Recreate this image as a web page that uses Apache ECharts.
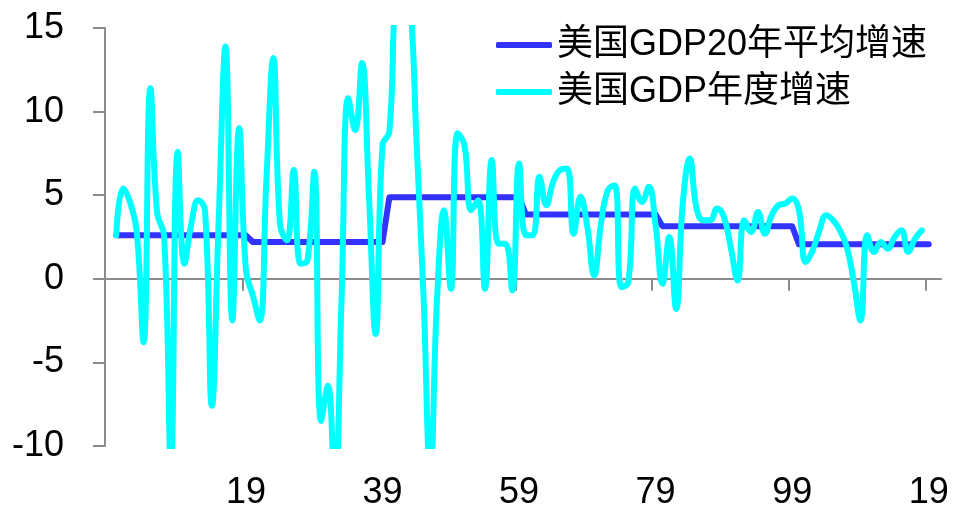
<!DOCTYPE html>
<html>
<head>
<meta charset="utf-8">
<script src="https://cdn.jsdelivr.net/npm/echarts@6/dist/echarts.min.js"></script>
<style>
html,body{margin:0;padding:0;background:#fff;}
#chart{width:955px;height:511px;}
</style>
</head>
<body>
<div id="chart"></div>
<script>
// Years (x categories)
const years = [
1900,1901,1902,1903,1904,1905,1906,1907,1908,1909,
1910,1911,1912,1913,1914,1915,1916,1917,1918,1919,
1920,1921,1922,1923,1924,1925,1926,1927,1928,1929,
1930,1931,1932,1933,1934,1935,1936,1937,1938,1939,
1940,1941,1942,1943,1944,1945,1946,1947,1948,1949,
1950,1951,1952,1953,1954,1955,1956,1957,1958,1959,
1960,1961,1962,1963,1964,1965,1966,1967,1968,1969,
1970,1971,1972,1973,1974,1975,1976,1977,1978,1979,
1980,1981,1982,1983,1984,1985,1986,1987,1988,1989,
1990,1991,1992,1993,1994,1995,1996,1997,1998,1999,
2000,2001,2002,2003,2004,2005,2006,2007,2008,2009,
2010,2011,2012,2013,2014,2015,2016,2017,2018,2019
];
// 美国GDP年度增速 (%), 1900-2018
const gdpGrowth = [
2.6,5.4,4.6,2.8,-3.8,11.4,3.9,2.6,-11.0,7.6,
0.9,3.3,4.7,4.1,-7.6,3.5,13.9,-2.5,9.0,0.5,
-1.0,-2.5,6.0,13.2,3.2,2.3,6.5,0.9,1.1,6.4,
-8.5,-6.4,-12.9,-1.2,10.8,8.9,12.9,5.1,-3.3,8.0,
8.8,17.7,18.9,17.0,8.0,-1.0,-11.6,-1.1,4.1,-0.6,
8.7,8.0,4.1,4.7,-0.6,7.1,2.1,2.1,-0.7,6.9,
2.6,2.6,6.1,4.4,5.8,6.5,6.6,2.7,4.9,3.1,
0.2,3.3,5.3,5.6,-0.5,-0.2,5.4,4.6,5.5,3.2,
-0.3,2.5,-1.8,4.6,7.2,4.2,3.5,3.5,4.2,3.7,
1.9,-0.1,3.5,2.8,4.0,2.7,3.8,4.4,4.5,4.8,
4.1,1.0,1.7,2.9,3.8,3.5,2.9,1.9,-0.1,-2.5,
2.6,1.6,2.2,1.8,2.5,2.9,1.6,2.4,2.9
];
// 美国GDP20年平均增速 (%), 1900-2019
const avg20 = [
2.6,2.6,2.6,2.6,2.6,2.6,2.6,2.6,2.6,2.6,
2.6,2.6,2.6,2.6,2.6,2.6,2.6,2.6,2.6,2.6,
2.2,2.2,2.2,2.2,2.2,2.2,2.2,2.2,2.2,2.2,
2.2,2.2,2.2,2.2,2.2,2.2,2.2,2.2,2.2,2.2,
4.88,4.88,4.88,4.88,4.88,4.88,4.88,4.88,4.88,4.88,
4.88,4.88,4.88,4.88,4.88,4.88,4.88,4.88,4.88,4.88,
3.84,3.84,3.84,3.84,3.84,3.84,3.84,3.84,3.84,3.84,
3.84,3.84,3.84,3.84,3.84,3.84,3.84,3.84,3.84,3.84,
3.14,3.14,3.14,3.14,3.14,3.14,3.14,3.14,3.14,3.14,
3.14,3.14,3.14,3.14,3.14,3.14,3.14,3.14,3.14,3.14,
2.06,2.06,2.06,2.06,2.06,2.06,2.06,2.06,2.06,2.06,
2.06,2.06,2.06,2.06,2.06,2.06,2.06,2.06,2.06,2.06
];
// x-axis tick labels (years shown as two digits)
const xLabelYears = [1919, 1939, 1959, 1979, 1999, 2019];
const seriesNames = ['美国GDP20年平均增速', '美国GDP年度增速'];

const FONT = "'Liberation Sans', Arial, 'Noto Sans CJK SC', sans-serif";
const AXIS_COLOR = '#8c8c8c';
const X_MIN = 1898.35, X_MAX = 2020.8;
const xTickPos = xLabelYears.map(y => y - 0.5);

const avgData = years.map((y, i) => [y, avg20[i]]);
const gdpData = gdpGrowth.map((v, i) => [years[i], v]);

const chart = echarts.init(document.getElementById('chart'), null, {renderer: 'canvas'});
chart.setOption({
  animation: false,
  backgroundColor: '#ffffff',
  textStyle: {fontFamily: FONT},
  grid: {left: 105, top: 28, right: 14, bottom: 60, containLabel: false},
  legend: {
    orient: 'vertical',
    left: 491,
    top: 22,
    itemWidth: 56,
    itemHeight: 6,
    itemGap: 11,
    icon: 'roundRect',
    data: seriesNames,
    textStyle: {fontSize: 36, lineHeight: 36, color: '#000', fontFamily: FONT}
  },
  xAxis: [
    {
      type: 'value', min: X_MIN, max: X_MAX,
      axisLine: {show: true, onZero: true, lineStyle: {color: AXIS_COLOR, width: 2}},
      axisTick: {show: true, length: 12, customValues: xTickPos, lineStyle: {color: AXIS_COLOR, width: 2}},
      axisLabel: {show: false},
      splitLine: {show: false}
    },
    {
      type: 'value', min: X_MIN, max: X_MAX, position: 'bottom',
      axisLine: {show: false, onZero: false},
      axisTick: {show: false},
      axisLabel: {
        show: true, customValues: xLabelYears, margin: 29,
        fontSize: 36, lineHeight: 36, color: '#000', fontFamily: FONT,
        formatter: v => String(Math.round(v) % 100).padStart(2, '0')
      },
      splitLine: {show: false}
    }
  ],
  yAxis: {
    type: 'value', min: -10, max: 15, interval: 5,
    axisLine: {show: true, onZero: false, lineStyle: {color: AXIS_COLOR, width: 2}},
    axisTick: {show: true, length: 12, lineStyle: {color: AXIS_COLOR, width: 2}},
    axisLabel: {fontSize: 36, margin: 41, color: '#000', fontFamily: FONT},
    splitLine: {show: false}
  },
  series: [
    {
      name: seriesNames[0], type: 'line', xAxisIndex: 0, data: avgData,
      symbol: 'none', smooth: false,
      itemStyle: {color: '#3333FF'},
      lineStyle: {color: '#3333FF', width: 6, cap: 'round', join: 'round'},
      z: 2
    },
    {
      name: seriesNames[1], type: 'line', xAxisIndex: 0, data: gdpData,
      symbol: 'none', smooth: 0.45,
      itemStyle: {color: '#00FFFF'},
      lineStyle: {color: '#00FFFF', width: 6, cap: 'round', join: 'round'},
      z: 3
    }
  ]
});
</script>
</body>
</html>
